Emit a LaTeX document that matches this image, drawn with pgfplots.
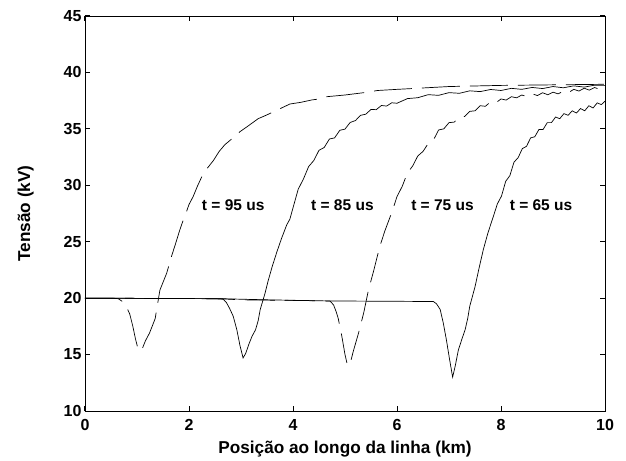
\documentclass[border=0pt]{standalone}
\usepackage{fontspec}
\setmainfont{Liberation Sans}
\usepackage{pgfplots}
\pgfplotsset{compat=1.18}

\begin{document}
\begin{tikzpicture}
% fixed page frame around the axis box
\path (-85pt,-48pt) rectangle (541pt,411pt);
\begin{axis}[
  at={(0pt,0pt)}, anchor=south west,
  scale only axis, width=520pt, height=395pt,
  xmin=0, xmax=10, ymin=10, ymax=45,
  xtick={0,2,...,10}, ytick={10,15,...,45},
  tick align=inside, xtick pos=both, ytick pos=both,
  major tick length=5pt,
  axis line style={line width=0.8pt},
  tick style={black, line width=1pt},
  /pgf/number format/assume math mode=true,
  ticklabel style={font=\fontsize{16}{16}\selectfont\bfseries},
  xticklabel style={yshift=-5pt},
  xlabel={Posição ao longo da linha (km)},
  ylabel={Tensão (kV)},
  label style={font=\fontsize{17.2}{17.2}\selectfont\bfseries},
  xlabel style={yshift=-3pt},
  ylabel style={yshift=23pt},
  clip=true,
]
% t = 95 us
\addplot[black, no marks, line width=0.7pt, dash pattern=on 38pt off 10pt] coordinates {
(0,20.0) (0.5,20.0) (0.64,19.95) (0.72,19.7) (0.8,19.2) (0.86,18.6) (0.92,17.5)
(0.97,16.4) (1.02,15.5) (1.06,15.3) (1.1,15.5) (1.16,16.2) (1.24,16.9) (1.30,17.6)
(1.35,18.2) (1.40,19.6) (1.44,20.7) (1.50,21.4) (1.57,22.2) (1.62,23.0) (1.67,23.8)
(1.74,24.8) (1.82,26.0) (1.88,26.8) (1.94,27.5) (2.0,28.3) (2.08,29.0) (2.16,29.9)
(2.25,30.8) (2.35,31.5) (2.47,32.2) (2.58,33.0) (2.69,33.6) (2.82,34.1) (2.98,34.75)
(3.12,35.2) (3.33,35.9) (3.48,36.2) (3.62,36.5) (3.78,36.85) (3.94,37.2) (4.15,37.35)
(4.36,37.56) (4.5,37.65) (4.65,37.85) (5.0,38.0) (5.35,38.2) (5.63,38.4) (6.0,38.5)
(6.41,38.6) (7.0,38.75) (7.5,38.8) (8.0,38.85) (9.0,38.9) (10,38.95)};
% t = 85 us
\addplot[black, no marks, line width=0.7pt] coordinates {
(0,20.0) (2.5,19.95) (2.66,19.9) (2.72,19.6) (2.78,19.1) (2.85,18.4) (2.92,17.2)
(2.98,15.8) (3.04,14.7) (3.09,15.1) (3.15,15.9) (3.21,16.6) (3.28,17.2) (3.33,18.0)
(3.37,19.0) (3.46,20.4) (3.52,21.5) (3.60,22.8) (3.69,24.1) (3.78,25.3) (3.88,26.5)
(3.94,27.0) (4.0,28.0) (4.1,29.65) (4.2,30.55) (4.3,31.65) (4.4,32.2) (4.5,33.1)
(4.6,33.35) (4.7,34.1) (4.8,34.2) (4.9,34.87) (5.0,34.98) (5.1,35.57) (5.2,35.73)
(5.3,36.2) (5.4,36.3) (5.5,36.72) (5.6,36.7) (5.7,37.07) (5.8,37.02) (5.9,37.31)
(6.0,37.27) (6.2,37.68) (6.4,37.76) (6.6,38.03) (6.8,37.97) (7.0,38.21) (7.2,38.15)
(7.4,38.37) (7.6,38.3) (7.8,38.49) (8.0,38.4) (8.2,38.59) (8.4,38.5) (8.6,38.67)
(8.8,38.57) (9.0,38.75) (9.2,38.64) (9.4,38.81) (9.6,38.7) (9.8,38.87) (10,38.85)};
% t = 75 us
\addplot[black, no marks, line width=0.7pt, dash pattern=on 30pt off 10pt] coordinates {
(0,20.0) (2.6,19.95) (3.0,19.85) (4.0,19.8) (4.71,19.75) (4.78,19.4) (4.83,18.8)
(4.87,18.2) (4.94,16.6) (5.0,15.0) (5.04,14.2) (5.07,14.0) (5.11,14.4) (5.16,15.3)
(5.26,16.9) (5.36,18.7) (5.45,20.7) (5.55,22.4) (5.67,24.6) (5.77,26.0) (5.9,27.6)
(6.0,29.0) (6.1,29.9) (6.2,31.1) (6.3,31.7) (6.4,32.6) (6.5,33.0) (6.6,33.7)
(6.7,34.0) (6.8,34.9) (6.9,35.0) (7.0,35.55) (7.1,35.6) (7.2,36.05) (7.3,36.1)
(7.4,36.55) (7.5,36.6) (7.6,37.05) (7.7,37.0) (7.8,37.4) (7.9,37.3) (8.0,37.65)
(8.1,37.55) (8.2,37.85) (8.3,37.75) (8.4,38.0) (8.5,37.85) (8.6,38.1) (8.7,37.95)
(8.8,38.2) (8.9,38.02) (9.0,38.25) (9.1,38.1) (9.2,38.35) (9.3,38.22) (9.4,38.5)
(9.5,38.35) (9.6,38.6) (9.7,38.43) (9.8,38.66) (9.9,38.5) (10,38.65)};
% t = 65 us
\addplot[black, no marks, line width=0.7pt] coordinates {
(0,20.0) (2.6,19.95) (3.5,19.85) (4.7,19.75) (6.0,19.72) (6.7,19.7) (6.76,19.5)
(6.83,19.0) (6.89,17.8) (6.95,16.3) (7.01,14.6) (7.07,13.0) (7.12,14.0) (7.18,15.4)
(7.25,16.4) (7.31,17.2) (7.36,18.2) (7.40,19.3) (7.5,21.0) (7.58,22.7) (7.66,24.3)
(7.75,25.8) (7.85,27.2) (7.93,28.35) (8.01,29.05) (8.09,30.35) (8.17,30.85)
(8.25,32.05) (8.33,32.45) (8.41,33.25) (8.49,33.45) (8.57,34.2) (8.65,34.3)
(8.73,34.95) (8.81,34.95) (8.89,35.55) (8.97,35.55) (9.05,36.05) (9.13,35.9)
(9.21,36.35) (9.29,36.2) (9.37,36.6) (9.45,36.4) (9.53,36.8) (9.61,36.6)
(9.69,37.05) (9.77,36.85) (9.85,37.3) (9.93,37.15) (10,37.45)};
\begin{scope}[every node/.style={font=\fontsize{15.5}{15.5}\selectfont\bfseries}]
\node at (axis cs:2.85,28.26) {t = 95 us};
\node at (axis cs:4.95,28.26) {t = 85 us};
\node at (axis cs:6.875,28.26) {t = 75 us};
\node at (axis cs:8.77,28.26) {t = 65 us};
\end{scope}
\end{axis}
\end{tikzpicture}
\end{document}
